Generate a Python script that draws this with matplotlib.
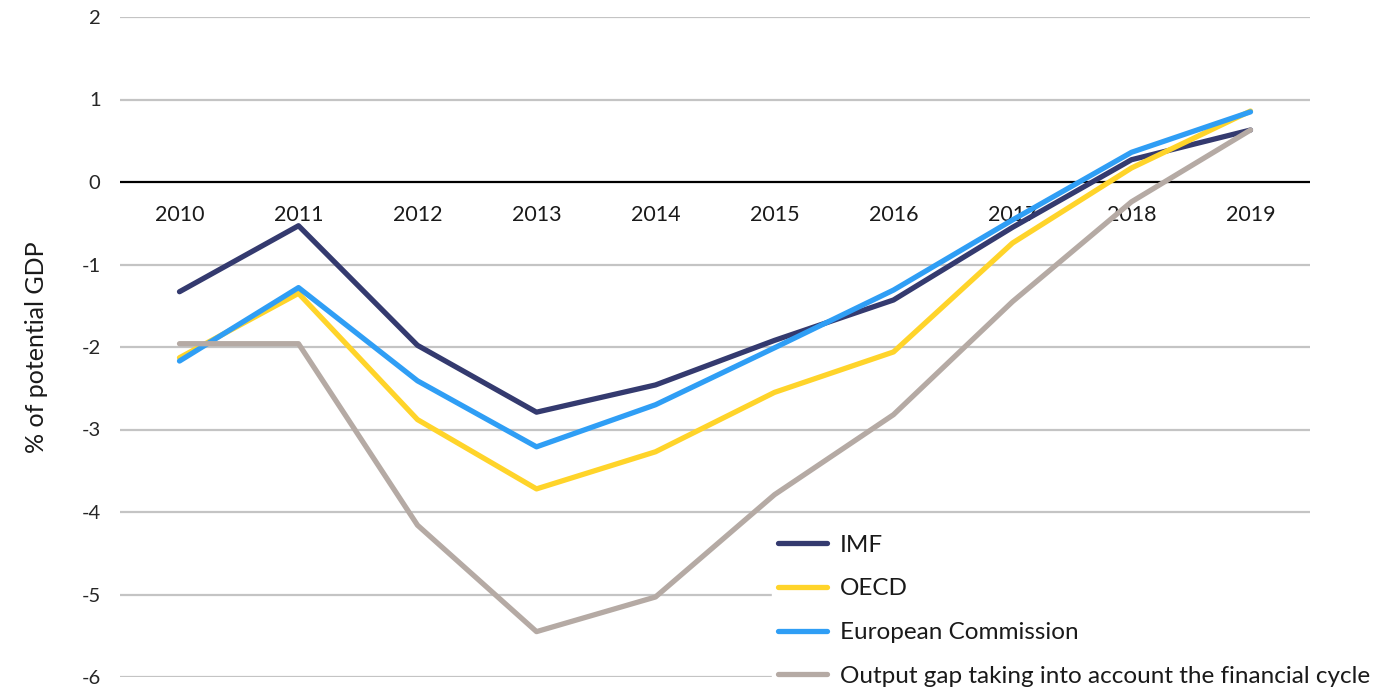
import matplotlib.pyplot as plt

# Output gap estimates, % of potential GDP
years = ['2010', '2011', '2012', '2013', '2014', '2015', '2016', '2017', '2018', '2019']
imf = [-1.33, -0.53, -1.98, -2.79, -2.46, -1.92, -1.43, -0.55, 0.27, 0.63]
oecd = [-2.13, -1.35, -2.88, -3.72, -3.27, -2.55, -2.06, -0.74, 0.17, 0.86]
ec = [-2.17, -1.28, -2.41, -3.21, -2.70, -2.01, -1.31, -0.46, 0.36, 0.85]
fin_cycle = [-1.96, -1.96, -4.16, -5.45, -5.03, -3.79, -2.82, -1.45, -0.24, 0.63]

plt.rcParams['font.family'] = ['Lato', 'DejaVu Sans']
plt.rcParams['axes.unicode_minus'] = False

fig = plt.figure(figsize=(13.85, 6.9), dpi=100)
ax = fig.add_axes([120 / 1385, 1 - 677 / 690, 1190 / 1385, 660 / 690])

x = list(range(len(years)))
lw = 3.8
ax.plot(x, imf, color='#343a6f', lw=lw, label='IMF', solid_capstyle='round', zorder=3)
ax.plot(x, oecd, color='#ffd42a', lw=lw, label='OECD', solid_capstyle='round', zorder=3)
ax.plot(x, ec, color='#2f9ef5', lw=lw, label='European Commission', solid_capstyle='round', zorder=3)
ax.plot(x, fin_cycle, color='#b5aaa4', lw=lw,
        label='Output gap taking into account the financial cycle', solid_capstyle='round', zorder=3)

ax.set_xlim(-0.5, len(years) - 0.5)
ax.set_ylim(-6, 2)
ax.set_yticks(range(-6, 3))
for v in range(-6, 3):
    if v == 0:
        ax.axhline(v, color='black', lw=1.6, zorder=2)
    else:
        ax.axhline(v, color='#c4c4c4', lw=1.6, zorder=1)

for s in ax.spines.values():
    s.set_visible(False)
ax.set_xticks([])
ax.tick_params(axis='y', length=0, pad=14, labelsize=14.5, labelcolor='#262626')

# year labels hang just below the zero line
for i, yr in enumerate(years):
    ax.annotate(yr, xy=(i, 0), xytext=(0, -24), textcoords='offset points',
                ha='center', va='center', fontsize=15.5, color='#1a1a1a', zorder=2)

ax.set_ylabel('% of potential GDP', fontsize=18, color='#1a1a1a', labelpad=24)

leg = fig.legend(loc='lower left', bbox_to_anchor=(772 / 1385, -0.004), frameon=True,
                 fontsize=17.5, handlelength=2.0, handletextpad=0.55, labelspacing=0.93,
                 borderpad=0.25, borderaxespad=0)
leg.get_frame().set_facecolor('white')
leg.get_frame().set_edgecolor('white')
leg.get_frame().set_alpha(1)
for t in leg.get_texts():
    t.set_color('#1a1a1a')

fig.savefig('out.png', dpi=100)
